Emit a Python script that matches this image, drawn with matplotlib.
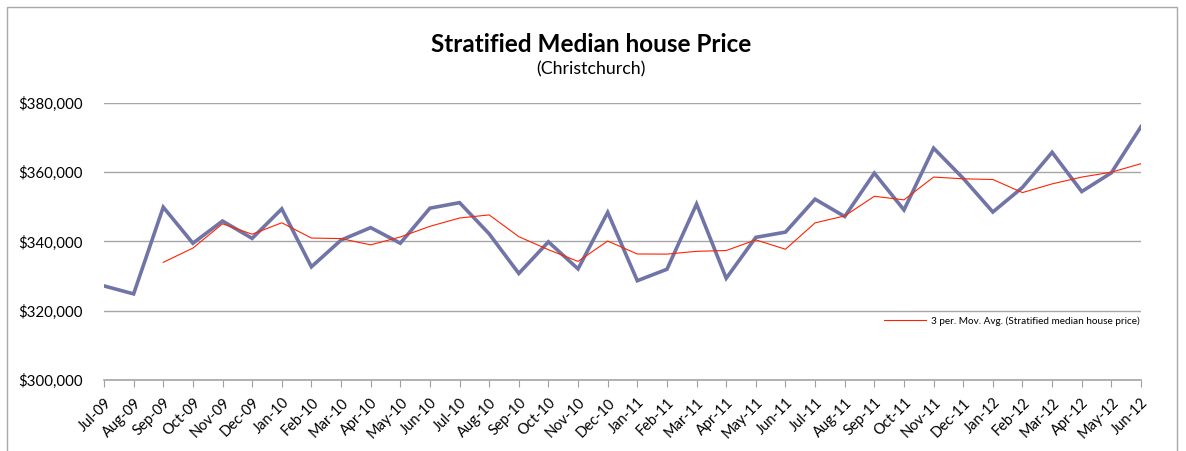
import matplotlib
matplotlib.use("Agg")
import matplotlib.pyplot as plt
import matplotlib.ticker as mticker
from matplotlib.patches import Rectangle
import pandas as pd

months = ["Jul-09", "Aug-09", "Sep-09", "Oct-09", "Nov-09", "Dec-09", "Jan-10", "Feb-10",
          "Mar-10", "Apr-10", "May-10", "Jun-10", "Jul-10", "Aug-10", "Sep-10", "Oct-10",
          "Nov-10", "Dec-10", "Jan-11", "Feb-11", "Mar-11", "Apr-11", "May-11", "Jun-11",
          "Jul-11", "Aug-11", "Sep-11", "Oct-11", "Nov-11", "Dec-11", "Jan-12", "Feb-12",
          "Mar-12", "Apr-12", "May-12", "Jun-12"]

median_price = [327200, 324900, 349900, 339500, 345900, 340900, 349400, 332700,
                340400, 344000, 339500, 349600, 351200, 342200, 330800, 339900,
                332100, 348400, 328700, 332000, 350800, 329400, 341200, 342700,
                352200, 347200, 359700, 349100, 366900, 358200, 348500, 355600,
                365700, 354400, 359800, 373100]

yticks = [300000, 320000, 340000, 360000, 380000]

moving_avg = pd.Series(median_price).rolling(3).mean()

plt.rcParams['font.family'] = ['Lato', 'DejaVu Sans']

W, H = 1186, 451
fig = plt.figure(figsize=(W / 100, H / 100), dpi=100)

# chart-area border
fig.patches.append(Rectangle((7 / W, -0.05), (1177 - 7) / W, 1.05 - 7 / H,
                             transform=fig.transFigure, fill=False,
                             edgecolor='#a8a8a8', linewidth=1.0))

ax = fig.add_axes([104 / W, 1 - 380.3 / H, (1141 - 104) / W, (380.3 - 102.7) / H])

x = list(range(len(months)))
ax.plot(x, median_price, color='#7174a6', linewidth=2.6, solid_joinstyle='miter',
        zorder=3, label='Stratified median house price')
ax.plot(x, moving_avg, color='#ff2200', linewidth=0.8, zorder=4,
        label='3 per. Mov. Avg. (Stratified median house price)')

ax.set_xlim(0, len(months) - 1)
ax.set_ylim(yticks[0], yticks[-1])
ax.set_yticks(yticks)
ax.yaxis.set_major_formatter(mticker.FuncFormatter(lambda v, p: f"${int(v):,}"))
ax.set_xticks(x)
ax.set_xticklabels(months, rotation=45, ha='right', rotation_mode='anchor', fontsize=10.5)
ax.tick_params(axis='x', direction='out', length=5, color='#a0a0a0', pad=6)
ax.tick_params(axis='y', length=0, labelsize=10.8, pad=15)

ax.grid(axis='y', color='#a6a6a6', linewidth=1.0)
ax.set_axisbelow(True)
for s in ['top', 'left', 'right']:
    ax.spines[s].set_visible(False)
ax.spines['bottom'].set_color('#a6a6a6')
ax.spines['bottom'].set_linewidth(1.2)

handles, labels = ax.get_legend_handles_labels()
ax.legend([handles[1]], [labels[1]], loc='center left', bbox_to_anchor=(0.748, 0.214),
          frameon=False, fontsize=7.2, handlelength=4.2, handletextpad=0.5,
          borderaxespad=0)

fig.text(591 / W, 1 - 44 / H, "Stratified Median house Price", ha='center', va='center',
         fontsize=17.5, fontweight='bold')
fig.text(591 / W, 1 - 69 / H, "(Christchurch)", ha='center', va='center', fontsize=12.8)

fig.savefig("out.png", dpi=100)
